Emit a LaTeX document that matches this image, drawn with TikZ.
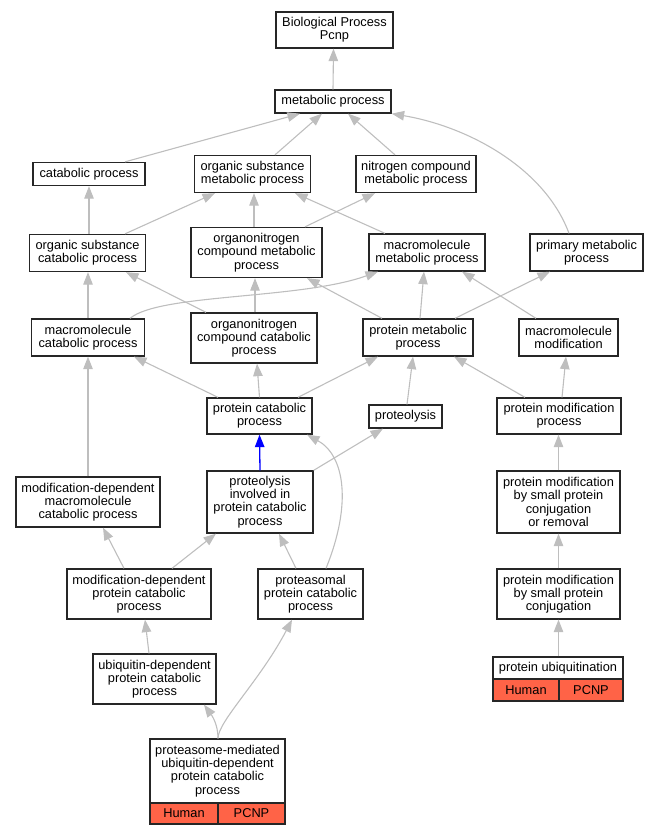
\documentclass[tikz,border=0pt]{standalone}
\usepackage{fontspec}
\setmainfont{Liberation Sans}
\usepackage{tikz}
\usetikzlibrary{arrows.meta}

\definecolor{edgegray}{RGB}{190,190,190}
\definecolor{hitred}{RGB}{255,99,71}

\begin{document}
\begin{tikzpicture}[x=1pt,y=-1pt,
        term/.style={draw=black!85,line width=1.3pt,fill=white,align=center,inner sep=0pt,
                font=\fontsize{12.8}{13.3}\selectfont},
        hit/.style={term,fill=hitred},
        isa/.style={draw=edgegray,line width=1.1pt,-{Triangle[length=12.5pt,width=9.5pt]}},
        part/.style={isa,draw=blue,line width=1.3pt}]

    \useasboundingbox (0,0) rectangle (657,835);

    % terms, top to bottom
    \node[term,minimum width=117pt,minimum height=36pt] (bp) at (334.5,30) {Biological Process\\Pcnp};
    \node[term,minimum width=116pt,minimum height=23pt] (met) at (333,101.5) {metabolic process};

    \node[term,minimum width=112pt,minimum height=23pt] (cat) at (89,174) {catabolic process};
    \node[term,minimum width=116pt,minimum height=37pt] (osm) at (252.5,174) {organic substance\\metabolic process};
    \node[term,minimum width=120pt,minimum height=37pt] (ncm) at (416,174) {nitrogen compound\\metabolic process};

    \node[term,minimum width=116pt,minimum height=37pt] (osc) at (87.5,253) {organic substance\\catabolic process};
    \node[term,minimum width=131pt,minimum height=50pt] (ocm) at (256.5,252.5) {organonitrogen\\compound metabolic\\process};
    \node[term,minimum width=116pt,minimum height=37pt] (mmm) at (427,252.5) {macromolecule\\metabolic process};
    \node[term,minimum width=113pt,minimum height=37pt] (pm) at (586.5,252.5) {primary metabolic\\process};

    \node[term,minimum width=113pt,minimum height=37pt] (mcp) at (88,337.5) {macromolecule\\catabolic process};
    \node[term,minimum width=126pt,minimum height=50pt] (occ) at (254,338) {organonitrogen\\compound catabolic\\process};
    \node[term,minimum width=110pt,minimum height=37pt] (prm) at (418,337.5) {protein metabolic\\process};
    \node[term,minimum width=99pt,minimum height=37pt] (mmod) at (568.5,337.5) {macromolecule\\modification};

    \node[term,minimum width=105pt,minimum height=36pt] (pcp) at (259.5,416) {protein catabolic\\process};
    \node[term,minimum width=73pt,minimum height=23pt] (prot) at (405.5,416.5) {proteolysis};
    \node[term,minimum width=124pt,minimum height=36pt] (pmp) at (559,416) {protein modification\\process};

    \node[term,minimum width=144pt,minimum height=50pt] (mdmc) at (88,502) {modification-dependent\\macromolecule\\catabolic process};
    \node[term,minimum width=106pt,minimum height=62pt] (pipc) at (260,502) {proteolysis\\involved in\\protein catabolic\\process};
    \node[term,minimum width=123pt,minimum height=62pt] (pmspcr) at (558.5,502) {protein modification\\by small protein\\conjugation\\or removal};

    \node[term,minimum width=144pt,minimum height=50pt] (mdpc) at (139,594) {modification-dependent\\protein catabolic\\process};
    \node[term,minimum width=105pt,minimum height=50pt] (ppc) at (310.5,594) {proteasomal\\protein catabolic\\process};
    \node[term,minimum width=123pt,minimum height=50pt] (pmspc) at (558.5,594) {protein modification\\by small protein\\conjugation};

    \node[term,minimum width=123pt,minimum height=50pt] (udpc) at (154.5,679) {ubiquitin-dependent\\protein catabolic\\process};
    \node[term,minimum width=130pt,minimum height=22pt] (pu) at (558,668) {protein ubiquitination};
    \node[hit,minimum width=66pt,minimum height=22pt] (pu human) at (526,690) {Human};
    \node[hit,minimum width=64pt,minimum height=22pt] (pu pcnp) at (591,690) {PCNP};

    \node[term,minimum width=135pt,minimum height=64pt] (pmud) at (217.5,771) {proteasome-mediated\\ubiquitin-dependent\\protein catabolic\\process};
    \node[hit,minimum width=68pt,minimum height=21pt] (pmud human) at (184,813.5) {Human};
    \node[hit,minimum width=67pt,minimum height=21pt] (pmud pcnp) at (251.5,813.5) {PCNP};

    % is_a links, child to parent
    \draw[isa] (met.north) -- ([xshift=-1pt]bp.south);

    \draw[isa] ([xshift=36pt]cat.north) -- ([xshift=-33pt]met.south);
    \draw[isa] ([xshift=22.5pt]osm.north) -- ([xshift=-11pt]met.south);
    \draw[isa] ([xshift=-21pt]ncm.north) -- ([xshift=15pt]met.south);
    \draw[isa] ([xshift=-17.5pt]pm.north) .. controls +(-24,-65) and +(77,13) .. (met.south east);

    \draw[isa] ([xshift=1.5pt]osc.north) -- (cat.south);
    \draw[isa] ([xshift=37.5pt]osc.north) -- ([xshift=-37.5pt]osm.south);
    \draw[isa] ([xshift=-2.5pt]ocm.north) -- ([xshift=1.5pt]osm.south);
    \draw[isa] ([xshift=48.5pt]ocm.north) -- ([xshift=-41pt]ncm.south);
    \draw[isa] ([xshift=-42pt]mmm.north) -- ([xshift=42.5pt]osm.south);

    \draw[isa] (mcp.north) -- ([xshift=0.5pt]osc.south);
    \draw[isa] ([xshift=42pt]mcp.north) .. controls +(30,-25) and +(-78,28) .. ([xshift=-49pt]mmm.south);
    \draw[isa] ([xshift=-48pt]occ.north) -- ([xshift=38.5pt]osc.south);
    \draw[isa] ([xshift=1pt]occ.north) -- ([xshift=-1.5pt]ocm.south);
    \draw[isa] ([xshift=-36pt]prm.north) -- ([xshift=50.5pt]ocm.south);
    \draw[isa] ([xshift=2pt]prm.north) -- ([xshift=-3pt]mmm.south);
    \draw[isa] ([xshift=37pt]prm.north) -- ([xshift=-36.5pt]pm.south);
    \draw[isa] ([xshift=-32.5pt]mmod.north) -- ([xshift=35pt]mmm.south);

    \draw[isa] ([xshift=-41.5pt]pcp.north) -- ([xshift=46pt]mcp.south);
    \draw[isa] (pcp.north) -- ([xshift=3pt]occ.south);
    \draw[isa] ([xshift=38.5pt]pcp.north) -- ([xshift=-40pt]prm.south);
    \draw[isa] ([xshift=1.5pt]prot.north) -- ([xshift=-5pt]prm.south);
    \draw[isa] ([xshift=-34pt]pmp.north) -- ([xshift=36pt]prm.south);
    \draw[isa] ([xshift=3pt]pmp.north) -- ([xshift=-2.5pt]mmod.south);

    \draw[isa] (mdmc.north) -- (mcp.south);
    \draw[part] (pipc.north) -- (pcp.south);
    \draw[isa] (pipc.north east) -- ([xshift=-22.5pt]prot.south);
    \draw[isa] (pmspcr.north) -- ([xshift=-0.5pt]pmp.south);

    \draw[isa] ([xshift=-15pt]mdpc.north) -- ([xshift=15pt]mdmc.south);
    \draw[isa] ([xshift=33pt]mdpc.north) -- ([xshift=-44pt]pipc.south);
    \draw[isa] ([xshift=-14.5pt]ppc.north) -- ([xshift=19pt]pipc.south);
    \draw[isa] ([xshift=15.5pt]ppc.north) .. controls +(26,-64) and +(38,21) .. ([xshift=47.5pt]pcp.south);
    \draw[isa] (pmspc.north) -- (pmspcr.south);

    \draw[isa] ([xshift=-5.5pt]udpc.north) -- ([xshift=6pt]mdpc.south);
    \draw[isa] ([xshift=0.5pt]pu.north) -- (pmspc.south);

    \draw[isa] ([xshift=0.5pt]pmud.north) .. controls +(0,-14) and +(8,11) .. ([xshift=49.5pt]udpc.south);
    \draw[isa] ([xshift=0.5pt]pmud.north) .. controls +(0,-17) and +(-32,61) .. ([xshift=-18.5pt]ppc.south);
\end{tikzpicture}
\end{document}
